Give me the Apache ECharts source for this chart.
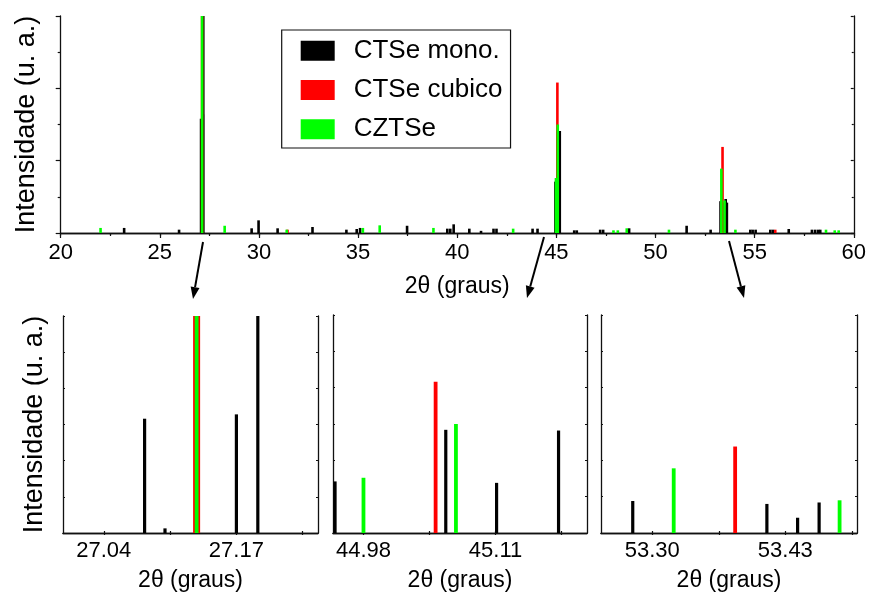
<!DOCTYPE html>
<html>
<head>
<meta charset="utf-8">
<script src="https://cdn.jsdelivr.net/npm/echarts@6/dist/echarts.min.js"></script>
<style>html,body{margin:0;padding:0;background:#fff}#c{width:869px;height:593px}</style>
</head>
<body>
<div id="c"></div>
<script>
// ---- data (2θ in degrees, intensity in arbitrary units; 1000 = clipped main peak) ----
const seriesNames = ['CTSe mono.', 'CTSe cubico', 'CZTSe'];
const monoPos = [23.2, 25.97, 27.080, 27.100, 27.170, 27.191, 29.63, 29.98, 30.94, 32.70, 34.41, 34.93, 35.10, 37.47, 39.50, 39.65, 39.82, 40.61, 41.20, 41.83, 41.98, 43.80, 44.05, 44.952, 45.061, 45.111, 45.172, 45.90, 46.03, 47.21, 47.36, 48.67, 51.57, 52.78, 53.281, 53.412, 53.442, 53.463, 53.54, 53.60, 54.78, 54.90, 55.05, 55.79, 55.92, 56.72, 57.89, 58.05, 58.20, 58.31];
const monoInt = [7, 4.6, 158, 6.4, 164, 1000, 6.5, 17.5, 6.5, 8.3, 4.6, 5.5, 7, 10, 6, 6, 12, 6, 3, 6, 6, 6, 6, 71, 142, 69, 141, 3.7, 3.7, 4.6, 4.6, 6.5, 10, 4.6, 44, 40, 21, 42, 47, 42, 4.6, 4.6, 4.6, 4.6, 4.6, 5.5, 4.6, 4.6, 4.6, 4.6];
const cubicPos = [27.131, 31.44, 45.051, 53.381, 56.04];
const cubicInt = [1000, 4.6, 208, 119, 4.6];
const czPos = [22.01, 27.131, 28.27, 31.40, 35.24, 36.09, 38.80, 42.82, 44.98, 45.071, 47.88, 48.10, 48.55, 50.68, 53.321, 53.483, 54.03, 58.60, 59.04, 59.24];
const czInt = [7, 1000, 10, 4.6, 7, 10.6, 7, 6, 76, 150, 3.7, 3.7, 6.5, 4.6, 89, 45, 4.6, 4.6, 3.7, 3.7];

// x ranges and tick labels of the three zoomed panels
const panelRanges = [[27.00, 27.25], [44.95, 45.20], [53.25, 53.50]];
const panelLabels = [[27.04, 27.17], [44.98, 45.11], [53.30, 53.43]];
const panelTicks = [[27.04, 27.105, 27.17, 27.235], [44.98, 45.045, 45.11, 45.175], [53.30, 53.365, 53.43, 53.495]];
const mainRange = [20, 60];
const yMax = 300;

// ---- helpers ----
const FONT = "'Liberation Sans', Arial, sans-serif";
const colors = ['#000000', '#ff0000', '#00ff00'];
const allPos = [monoPos, cubicPos, czPos];
const allInt = [monoInt, cubicInt, czInt];

function pairs(pos, val, range) {
  const out = [];
  for (let i = 0; i < pos.length; i++) {
    if (!range || (pos[i] >= range[0] - 0.01 && pos[i] <= range[1] + 0.01)) out.push([pos[i], val[i]]);
  }
  return out;
}
function stick(width) {
  return function (params, api) {
    const x = api.value(0), y = api.value(1);
    const base = api.coord([x, 0]);
    const top = api.coord([x, y]);
    const cs = params.coordSys;
    const t = Math.max(top[1], cs.y);
    let l = base[0] - width / 2, r = base[0] + width / 2;
    l = Math.max(l, cs.x); r = Math.min(r, cs.x + cs.width);
    if (r <= l) return null;
    return { type: 'rect', shape: { x: l, y: t, width: r - l, height: base[1] - t }, style: { fill: api.visual('color') } };
  };
}

const grids = [
  { left: 60.7, top: 16, width: 794.3, height: 217 },
  { left: 63, top: 316, width: 255, height: 217 },
  { left: 333, top: 315, width: 254, height: 218 },
  { left: 601, top: 315, width: 256, height: 218 }
];
const lineStyle = { color: '#111', width: 1.3 };
const xAxes = [], yAxes = [], series = [];

// main chart axes
xAxes.push({ gridIndex: 0, type: 'value', min: mainRange[0], max: mainRange[1], interval: 5, position: 'bottom',
  name: '2θ (graus)', nameLocation: 'middle', nameGap: 42, nameTextStyle: { fontFamily: FONT, fontSize: 23, color: '#000' },
  axisLine: { lineStyle }, axisTick: { inside: false, length: 5, lineStyle: { color: '#111', width: 1.2 } },
  minorTick: { show: true, splitNumber: 2, length: 3, lineStyle: { color: '#111', width: 1.2 } },
  axisLabel: { fontFamily: FONT, fontSize: 22, color: '#000', margin: 9 }, splitLine: { show: false } });
xAxes.push({ gridIndex: 0, type: 'value', min: mainRange[0], max: mainRange[1], interval: 5, position: 'top',
  axisLine: { lineStyle }, axisTick: { inside: true, length: 3, lineStyle: { color: '#111', width: 1.2 } },
  minorTick: { show: true, splitNumber: 2, length: 2, lineStyle: { color: '#111', width: 1.2 } },
  axisLabel: { show: false }, splitLine: { show: false } });
yAxes.push({ gridIndex: 0, type: 'value', min: 0, max: yMax, interval: 100, position: 'left',
  name: 'Intensidade (u. a.)', nameLocation: 'middle', nameGap: 21, nameTextStyle: { fontFamily: FONT, fontSize: 27, color: '#000' },
  axisLine: { show: true, lineStyle }, axisTick: { show: true, inside: false, length: 5, lineStyle: { color: '#111', width: 1.2 } },
  minorTick: { show: true, splitNumber: 2, length: 3, lineStyle: { color: '#111', width: 1.2 } },
  axisLabel: { show: false }, splitLine: { show: false } });
yAxes.push({ gridIndex: 0, type: 'value', min: 0, max: yMax, interval: 100, position: 'right',
  axisLine: { show: true, lineStyle }, axisTick: { show: true, inside: true, length: 3, lineStyle: { color: '#111', width: 1.2 } },
  minorTick: { show: true, splitNumber: 2, length: 2, lineStyle: { color: '#111', width: 1.2 } },
  axisLabel: { show: false }, splitLine: { show: false } });
for (let s = 0; s < 3; s++) {
  series.push({ type: 'custom', name: seriesNames[s], xAxisIndex: 0, yAxisIndex: 0, clip: true,
    itemStyle: { color: colors[s] }, renderItem: stick(2.6), data: pairs(allPos[s], allInt[s], null), silent: true });
}

// panels
for (let p = 0; p < 3; p++) {
  const g = p + 1;
  const rng = panelRanges[p];
  xAxes.push({ gridIndex: g, type: 'value', min: rng[0], max: rng[1], position: 'bottom',
    name: '2θ (graus)', nameLocation: 'middle', nameGap: 36, nameTextStyle: { fontFamily: FONT, fontSize: 23, color: '#000' },
    axisLine: { lineStyle }, axisTick: { inside: true, length: 2, customValues: panelTicks[p], lineStyle: { color: '#111', width: 1.2 } },
    axisLabel: { fontFamily: FONT, fontSize: 22, color: '#000', margin: 7, customValues: panelLabels[p], formatter: v => Number(v).toFixed(2) },
    splitLine: { show: false } });
  xAxes.push({ gridIndex: g, type: 'value', min: rng[0], max: rng[1], position: 'top',
    axisLine: { lineStyle }, axisTick: { inside: true, length: 2, customValues: panelTicks[p], lineStyle: { color: '#111', width: 1.2 } },
    axisLabel: { show: false }, splitLine: { show: false } });
  const yl = { gridIndex: g, type: 'value', min: 0, max: yMax, interval: 100, position: 'left',
    axisLine: { show: true, lineStyle }, axisTick: { show: true, inside: true, length: 2, lineStyle: { color: '#111', width: 1.2 } },
    minorTick: { show: true, splitNumber: 2, length: 2, lineStyle: { color: '#111', width: 1.2 } },
    axisLabel: { show: false }, splitLine: { show: false } };
  if (p === 0) {
    yl.name = 'Intensidade (u. a.)'; yl.nameLocation = 'middle'; yl.nameGap = 15;
    yl.nameTextStyle = { fontFamily: FONT, fontSize: 27, color: '#000' };
  }
  yAxes.push(yl);
  yAxes.push({ gridIndex: g, type: 'value', min: 0, max: yMax, interval: 100, position: 'right',
    axisLine: { show: true, lineStyle }, axisTick: { show: true, inside: true, length: 2, lineStyle: { color: '#111', width: 1.2 } },
    minorTick: { show: true, splitNumber: 2, length: 2, lineStyle: { color: '#111', width: 1.2 } },
    axisLabel: { show: false }, splitLine: { show: false } });
  for (let s = 0; s < 3; s++) {
    const w = (p === 0 && s === 1) ? 7 : (s === 0 ? 3.2 : 3.8);
    series.push({ type: 'custom', name: seriesNames[s], xAxisIndex: 2 * g, yAxisIndex: 2 * g, clip: true,
      itemStyle: { color: colors[s] }, renderItem: stick(w), data: pairs(allPos[s], allInt[s], rng), silent: true });
  }
}

function arrow(x1, y1, x2, y2) {
  const dx = x2 - x1, dy = y2 - y1, len = Math.sqrt(dx * dx + dy * dy);
  const ux = dx / len, uy = dy / len, hl = 12, hw = 4.5;
  const bx = x2 - ux * hl, by = y2 - uy * hl;
  return { type: 'group', children: [
    { type: 'line', shape: { x1, y1, x2: bx, y2: by }, style: { stroke: '#000', lineWidth: 2 } },
    { type: 'polygon', shape: { points: [[x2, y2], [bx - uy * hw, by + ux * hw], [bx + uy * hw, by - ux * hw]] }, style: { fill: '#000' } }
  ] };
}

const option = {
  animation: false,
  backgroundColor: '#fff',
  grid: grids,
  xAxis: xAxes,
  yAxis: yAxes,
  legend: {
    data: seriesNames, orient: 'vertical', left: 281.7, top: 30,
    padding: [7.7, 8, 5.7, 19], itemWidth: 34, itemHeight: 20, itemGap: 13.3, icon: 'rect',
    borderColor: '#111', borderWidth: 1.2, selectedMode: false,
    textStyle: { fontFamily: FONT, fontSize: 26, color: '#000', lineHeight: 20, padding: [0, 0, 0, 14] }
  },
  graphic: [arrow(203, 242, 193, 299), arrow(544, 237, 527, 298), arrow(729, 241, 744, 298)],
  series: series
};
const chart = echarts.init(document.getElementById('c'), null, { renderer: 'canvas' });
chart.setOption(option);
</script>
</body>
</html>
